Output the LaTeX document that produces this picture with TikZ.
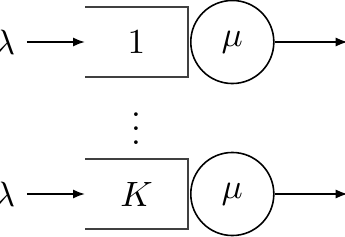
\documentclass[tikz,border=0pt]{standalone}
\usepackage{amsmath}
\usetikzlibrary{positioning,calc,arrows.meta}
\tikzset{
  >={Latex[length=3.4pt,width=2.6pt]},
  buffer/.style={rectangle, inner sep=0pt, minimum width=1.01cm, minimum height=0.68cm},
  server/.style={draw, circle, inner sep=0pt, minimum size=0.83cm, line width=0.45pt},
  rate/.style={inner sep=3.1pt},
}

\begin{document}
\begin{tikzpicture}[x=0.01cm, y=0.01cm, line width=0.55pt]
    \useasboundingbox (0,0) rectangle (345,236);
    % first queue
    \node[buffer] (buf1) at (136.5,194) {$1$};
    \node[server] (srv1) [right=0.02cm of buf1] {$\mu$};
    \node[rate] (lam1) [left=0.58cm of buf1] {$\lambda$};
    \coordinate[right=0.73cm of srv1] (out1);
    % last queue
    \node[buffer] (bufK) at (136.5,42) {$K$};
    \node[server] (srvK) [right=0.02cm of bufK] {$\mu$};
    \node[rate] (lamK) [left=0.58cm of bufK] {$\lambda$};
    \coordinate[right=0.73cm of srvK] (outK);
    \node (dots) at ($(buf1)!0.5!(bufK)$) {$\vdots$};
    \foreach \q in {1,K} {
      \draw[black!75] (buf\q.north west) -- (buf\q.north east)
        -- (buf\q.south east) -- (buf\q.south west);
      \draw[->] (lam\q) -- (buf\q);
      \draw[->] (srv\q) -- (out\q);
    }
\end{tikzpicture}
\end{document}
